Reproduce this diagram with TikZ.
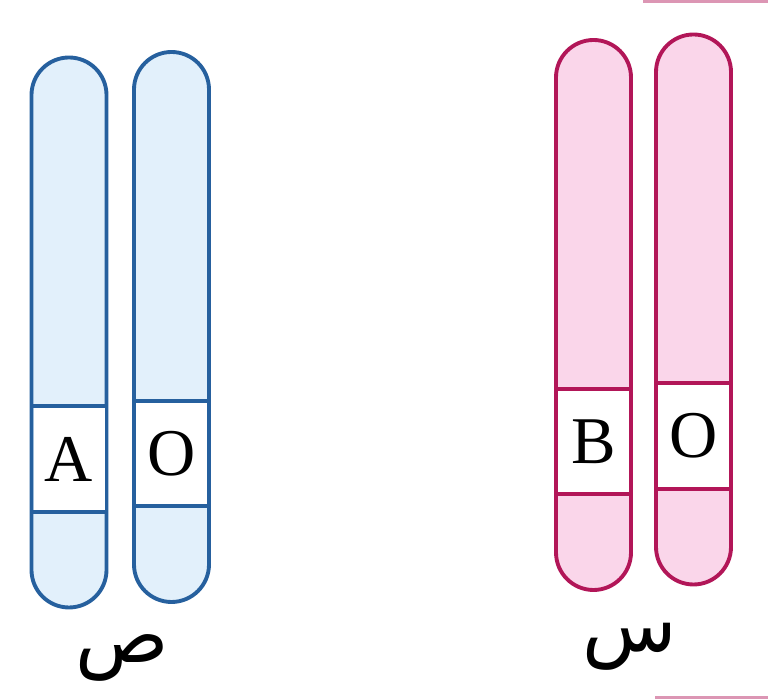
\documentclass[tikz,border=0pt]{standalone}
\usepackage{fontspec}
\setmainfont{Liberation Serif}
\newfontfamily\arabicfont[Script=Arabic]{DejaVu Sans}
\TeXXeTstate=1
\usepackage{xcolor}
\usepackage{tikz}
\usetikzlibrary{positioning}
\definecolor{ChromBlue}{RGB}{38, 96, 158}
\definecolor{ChromBlueFill}{RGB}{226, 240, 251}
\definecolor{ChromPink}{RGB}{178, 22, 88}
\definecolor{ChromPinkFill}{RGB}{250, 214, 234}

\tikzset{
  chromo/.style={rounded corners=0.75cm, minimum width=1.5cm, minimum height=11cm,
                 line width=2.2pt, inner sep=0pt},
  bluechromo/.style={chromo, draw=ChromBlue, fill=ChromBlueFill},
  pinkchromo/.style={chromo, draw=ChromPink, fill=ChromPinkFill},
  locus/.style={fill=white, minimum width=1.42cm, minimum height=2.1cm, inner sep=0pt,
                font=\fontsize{38}{40}\selectfont},
  pairlabel/.style={font=\arabicfont\fontsize{44}{48}\selectfont},
}

\begin{document}
\begin{tikzpicture}
  \useasboundingbox (0,0) rectangle (15.36,13.98);

  % blue pair
  \node[bluechromo] (b1) at (1.38,7.33) {};
  \node[bluechromo] (b2) at (3.43,7.44) {};
  % pink pair
  \node[pinkchromo] (p1) at (11.87,7.68) {};
  \node[pinkchromo] (p2) at (13.87,7.79) {};

  % gene loci
  \node[locus, above=1.95cm of b1.south] (lA)  {A};
  \node[locus, above=1.95cm of b2.south] (lO1) {O};
  \node[locus, above=1.95cm of p1.south] (lB)  {B};
  \node[locus, above=1.95cm of p2.south] (lO2) {O};

  \foreach \l in {lA, lO1}
    \draw[ChromBlue, line width=2.2pt] (\l.north west) -- (\l.north east)
                                       (\l.south west) -- (\l.south east);
  \foreach \l in {lB, lO2}
    \draw[ChromPink, line width=2.2pt] (\l.north west) -- (\l.north east)
                                       (\l.south west) -- (\l.south east);

  % pair names
  \node[pairlabel] (sad)  at (2.45,0.82) {\beginR ص\endR};
  \node[pairlabel] (seen) at (12.6,1.05) {\beginR س\endR};

  % frame edges at the page border
  \draw[ChromPink!45, line width=1.5pt] (12.86,13.95) -- (15.36,13.95);
  \draw[ChromPink!45, line width=1.5pt] (13.10,0.03) -- (15.36,0.03);
\end{tikzpicture}
\end{document}
